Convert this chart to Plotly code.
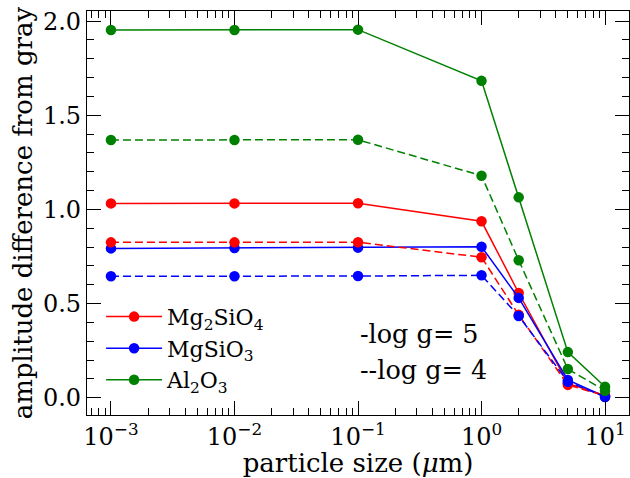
import plotly.graph_objects as go

sizes = [0.001, 0.01, 0.1, 1, 2, 5, 10]

mg2sio4_g5 = [1.032, 1.032, 1.033, 0.937, 0.556, 0.076, 0.012]
mgsio3_g5 = [0.793, 0.795, 0.797, 0.802, 0.530, 0.094, 0.005]
al2o3_g5 = [1.953, 1.953, 1.955, 1.683, 1.064, 0.242, 0.058]

mg2sio4_g4 = [0.825, 0.825, 0.826, 0.746, 0.440, 0.068, 0.010]
mgsio3_g4 = [0.645, 0.645, 0.646, 0.650, 0.434, 0.085, 0.004]
al2o3_g4 = [1.369, 1.369, 1.370, 1.179, 0.730, 0.152, 0.037]

x_tickvals = [0.001, 0.01, 0.1, 1, 10]
x_ticktext = ["10<sup>−3</sup>", "10<sup>−2</sup>", "10<sup>−1</sup>", "10<sup>0</sup>", "10<sup>1</sup>"]

names = ["Mg<sub>2</sub>SiO<sub>4</sub>", "MgSiO<sub>3</sub>", "Al<sub>2</sub>O<sub>3</sub>"]
colors = ["#ff0000", "#0000ff", "#008000"]
solid = [mg2sio4_g5, mgsio3_g5, al2o3_g5]
dashed = [mg2sio4_g4, mgsio3_g4, al2o3_g4]

FONT = "DejaVu Serif"

fig = go.Figure()
for name, col, ys in zip(names, colors, solid):
    fig.add_trace(go.Scatter(
        x=sizes, y=ys, mode="lines+markers", name=name,
        line=dict(color=col, width=1.5),
        marker=dict(color=col, size=10.5),
    ))
for name, col, ys in zip(names, colors, dashed):
    fig.add_trace(go.Scatter(
        x=sizes, y=ys, mode="lines+markers", name=name, showlegend=False,
        line=dict(color=col, width=1.5, dash="8px,4px"),
        marker=dict(color=col, size=10.5),
    ))

axis_common = dict(
    showline=True, linecolor="black", linewidth=1.2, mirror="allticks",
    ticks="inside", ticklen=14, tickwidth=1.2, tickcolor="black",
    showgrid=False, zeroline=False,
    tickfont=dict(family=FONT, size=24, color="black"),
)

fig.update_xaxes(
    type="log", range=[-3.194, 1.194], tickmode="array", tickvals=x_tickvals, ticktext=x_ticktext,
    minor=dict(ticks="inside", ticklen=7, tickwidth=1, tickcolor="black", dtick="D1", showgrid=False),
    title=dict(text="particle size (<i>μ</i>m)", font=dict(family=FONT, size=26, color="black"), standoff=0),
    **axis_common,
)
fig.update_yaxes(
    range=[-0.092, 2.054], dtick=0.5, tickformat=".1f",
    minor=dict(ticks="inside", ticklen=7, tickwidth=1, tickcolor="black", dtick=0.1, showgrid=False),
    title=dict(text="amplitude difference from gray", font=dict(family=FONT, size=26, color="black"), standoff=2),
    **axis_common,
)

fig.add_annotation(x=-1, y=0.338, xref="x", yref="y", text="-log g= 5", showarrow=False,
                   xanchor="left", yanchor="middle", font=dict(family=FONT, size=25.5, color="black"))
fig.add_annotation(x=-1, y=0.147, xref="x", yref="y", text="--log g= 4", showarrow=False,
                   xanchor="left", yanchor="middle", font=dict(family=FONT, size=25.5, color="black"))

fig.update_layout(
    width=630, height=478,
    margin=dict(l=87, r=1, t=11, b=63, autoexpand=False),
    paper_bgcolor="white", plot_bgcolor="white",
    font=dict(family=FONT, color="black"),
    legend=dict(x=0.026, y=0.295, xanchor="left", yanchor="top", bgcolor="rgba(0,0,0,0)",
                borderwidth=0, itemwidth=56, font=dict(family=FONT, size=22, color="black"), tracegroupgap=0),
    showlegend=True,
)

fig.write_html("out.html", config={"displayModeBar": False},
               post_script="document.body.style.margin='0';")
